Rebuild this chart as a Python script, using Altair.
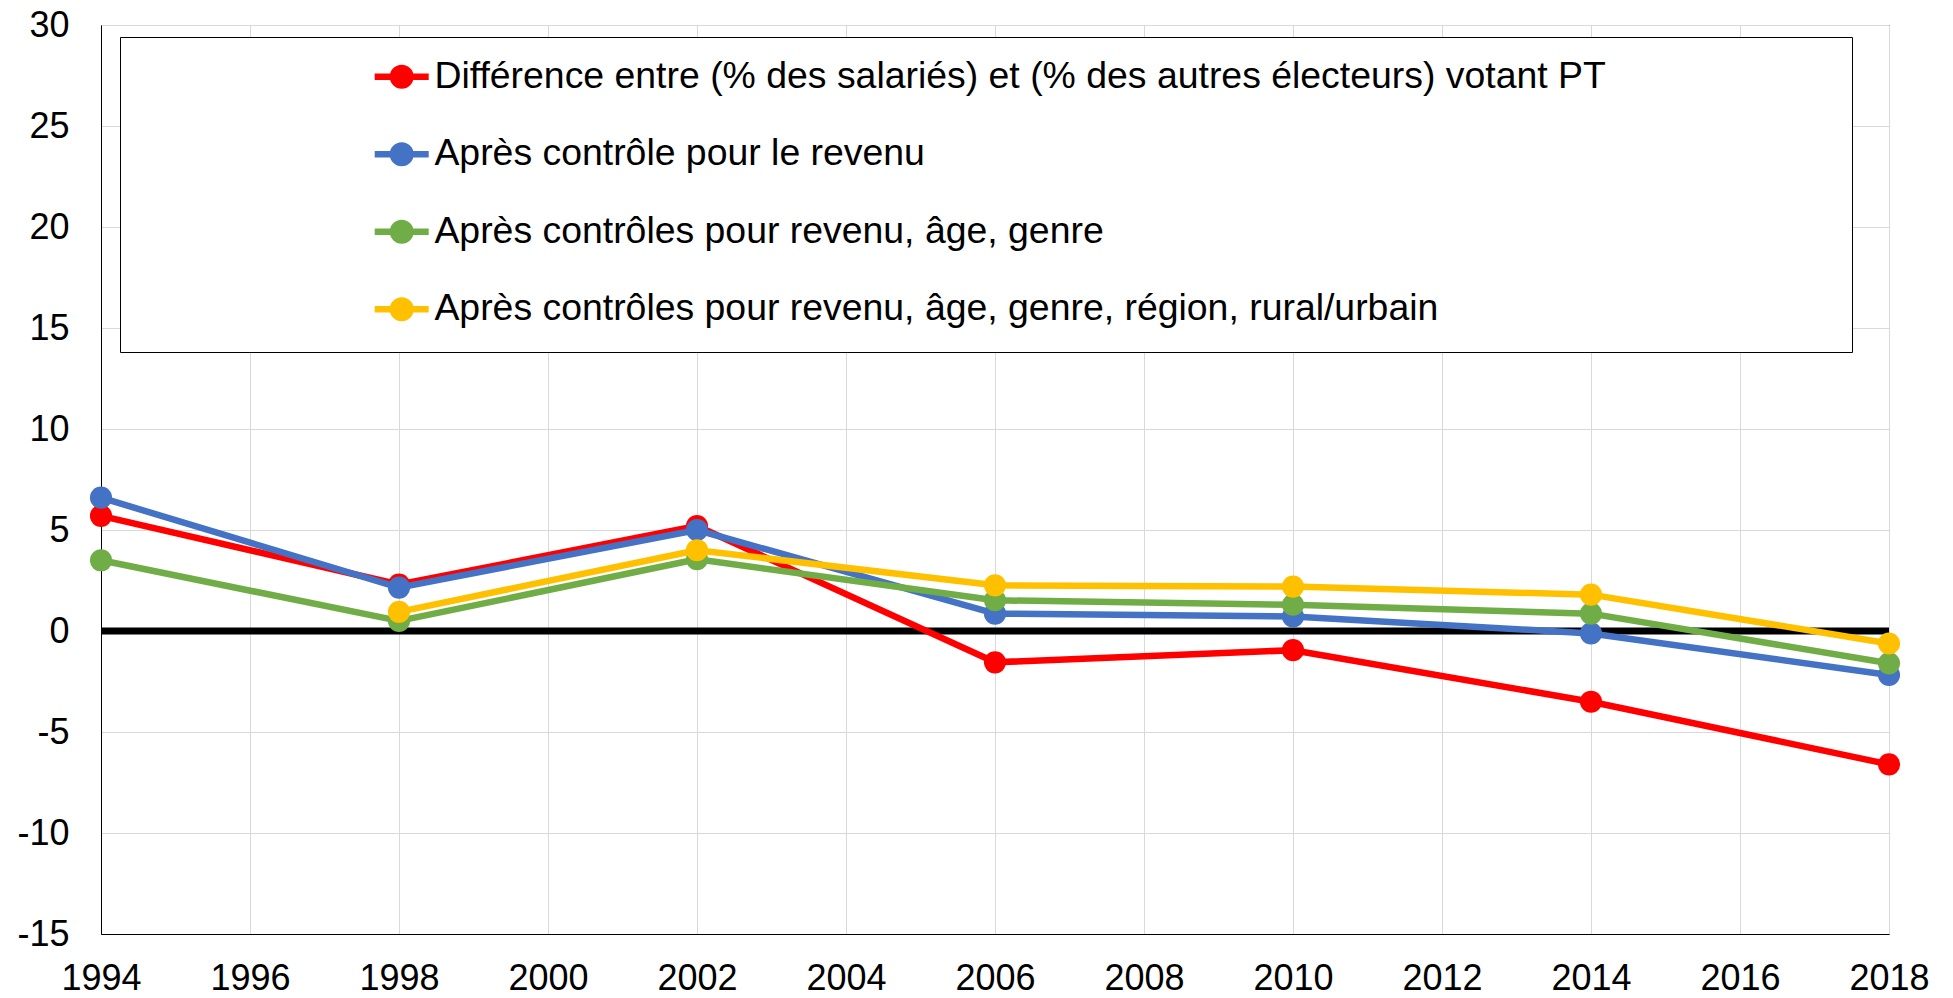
import altair as alt
import pandas as pd

years = [1994, 1998, 2002, 2006, 2010, 2014, 2018]
series_names = [
    "Différence entre (% des salariés) et (% des autres électeurs) votant PT",
    "Après contrôle pour le revenu",
    "Après contrôles pour revenu, âge, genre",
    "Après contrôles pour revenu, âge, genre, région, rural/urbain",
]
series_colors = ["#FF0000", "#4472C4", "#70AD47", "#FFC000"]
diff_raw = [5.7, 2.3, 5.2, -1.55, -0.95, -3.5, -6.6]
ctrl_income = [6.6, 2.15, 5.0, 0.86, 0.72, -0.12, -2.18]
ctrl_age_gender = [3.5, 0.5, 3.55, 1.52, 1.3, 0.86, -1.6]
ctrl_all = [None, 0.95, 4.0, 2.26, 2.2, 1.8, -0.62]
x_ticks = list(range(1994, 2019, 2))
y_ticks = list(range(-15, 31, 5))

rows = []
for name, vals in zip(series_names, [diff_raw, ctrl_income, ctrl_age_gender, ctrl_all]):
    for yr, v in zip(years, vals):
        if v is not None:
            rows.append({"year": yr, "value": v, "series": name})
df = pd.DataFrame(rows)

FONT = "Liberation Sans"
ROW_PAD = 32.5

legend = alt.Legend(
    title=" ",
    titleOrient="right",
    titlePadding=225,
    titleFontSize=37.4,
    titleFont=FONT,
    orient="none",
    legendX=19,
    legendY=12,
    direction="vertical",
    padding=21,
    strokeColor="black",
    fillColor="white",
    symbolType="M-2.25,0H2.25M-0.73,0a0.73,0.73 0 1,0 1.46,0a0.73,0.73 0 1,0 -1.46,0Z",
    symbolSize=576,
    symbolStrokeWidth=6.5,
    symbolOffset=242,
    symbolOpacity=1,
    labelOffset=14,
    labelFontSize=37.4,
    labelFont=FONT,
    labelColor="black",
    labelLimit=3000,
    rowPadding=ROW_PAD,
)

color = alt.Color(
    "series:N",
    scale=alt.Scale(domain=series_names, range=series_colors),
    legend=legend,
)
x = alt.X(
    "year:Q",
    scale=alt.Scale(domain=[1994, 2018], nice=False, zero=False),
    axis=alt.Axis(values=x_ticks, title=None, labelExpr="'' + datum.value",
                  labelPadding=27, ticks=False, labelFlush=False, labelOverlap=False),
)
y = alt.Y(
    "value:Q",
    scale=alt.Scale(domain=[-15, 30], nice=False, zero=False),
    axis=alt.Axis(values=y_ticks, title=None, labelExpr="'' + datum.value",
                  labelPadding=32, ticks=False, labelOverlap=False),
)

zero_df = pd.DataFrame({"value": [0]})
layers = [
    alt.Chart(zero_df).mark_rule(color="black", strokeWidth=7).encode(y=y)
]
for name in series_names:
    base = alt.Chart(df).transform_filter(alt.datum.series == name)
    layers.append(
        base.mark_line(strokeWidth=6.5, strokeJoin="round", strokeCap="round").encode(x=x, y=y, color=color)
    )
    layers.append(
        base.mark_point(filled=True, size=490, opacity=1).encode(x=x, y=y, color=color)
    )

chart = (
    alt.layer(*layers)
    .properties(
        width=1788,
        height=909,
        autosize=alt.AutoSizeParams(type="none"),
        padding={"left": 93, "top": 17, "right": 56, "bottom": 62},
        background="white",
    )
    .configure_axis(
        labelFont=FONT,
        labelFontSize=36,
        labelColor="black",
        gridColor="#d9d9d9",
        gridWidth=1,
        domainColor="black",
        domainWidth=1,
    )
    .configure_legend(rowPadding=ROW_PAD)
    .configure_view(stroke="black", strokeWidth=1)
)

chart.save("out.html", embed_options={"renderer": "svg", "actions": False})
